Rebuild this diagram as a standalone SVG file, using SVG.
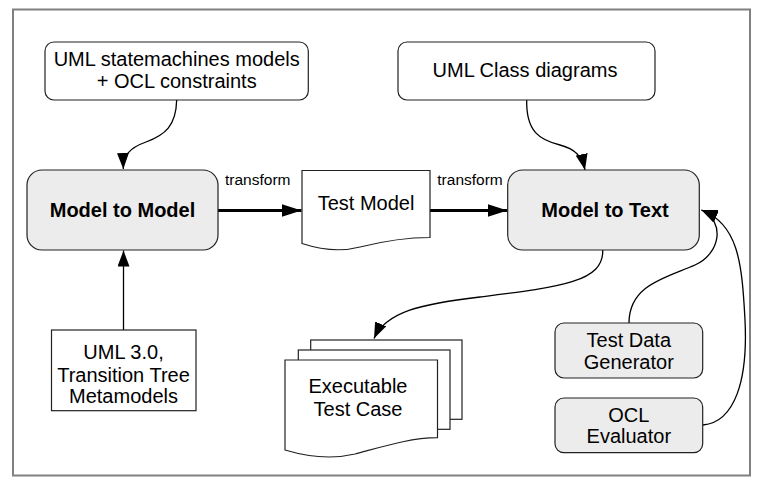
<svg xmlns="http://www.w3.org/2000/svg" width="761" height="486" viewBox="0 0 761 486">
<style>
  text { font-family: "Liberation Sans", Arial, sans-serif; font-size: 20px; fill: #000; text-anchor: middle; }
  .bold { font-weight: bold; }
  .lbl { font-size: 15.5px; text-anchor: start; }
  .box { fill: #ffffff; stroke: #222; stroke-width: 1.2; }
  .gbox { fill: #ececec; stroke: #222; stroke-width: 1.2; }
  .thin { fill: none; stroke: #000; stroke-width: 1.3; }
  .thick { fill: none; stroke: #000; stroke-width: 3; }
</style>
<defs>
  <marker id="ahThin" markerUnits="userSpaceOnUse" markerWidth="17" markerHeight="12" refX="16" refY="6" orient="auto">
    <path d="M0,0 L16,6 L0,12 Z" fill="#000"/>
  </marker>
  <marker id="ahThick" markerUnits="userSpaceOnUse" markerWidth="21" markerHeight="13" refX="20" refY="6.5" orient="auto">
    <path d="M0,0 L20,6.5 L0,13 Z" fill="#000"/>
  </marker>
</defs>
<rect x="0" y="0" width="761" height="486" fill="#ffffff"/>
<rect x="13" y="9.5" width="737" height="466" fill="none" stroke="#808080" stroke-width="2"/>

<g id="connectors">
  <path class="thin" d="M176.7,100 C176,126 165,135 146,142 C129,148 123,156 123.3,169" marker-end="url(#ahThin)"/>
  <path class="thin" d="M526.7,100 C526,132 540,140 560,145 C575,149 582,156 585,170" marker-end="url(#ahThin)"/>
  <path class="thick" d="M218,210.5 L301.5,210.5" marker-end="url(#ahThick)"/>
  <path class="thick" d="M430,210.5 L507.5,210.5" marker-end="url(#ahThick)"/>
  <path class="thin" d="M123.5,330 L123.5,250.5" marker-end="url(#ahThin)"/>
  <path class="thin" d="M602.7,250 C604,282 560,287 480,297 C420,304 386,312 374,338.5" marker-end="url(#ahThin)"/>
  <path class="thin" d="M629,323 C629,285 665,278 695,265 C720,254 726,222 701.5,210" marker-end="url(#ahThin)"/>
  <path class="thin" d="M703,425 C735,422 748,380 745,320 C742,262 738,224 701.5,210" marker-end="url(#ahThin)"/>
  <text class="lbl" x="225" y="185">transform</text>
  <text class="lbl" x="437.3" y="185">transform</text>
</g>

<g id="uml-statemachines">
  <rect class="box" x="45" y="42" width="263.3" height="58" rx="9"/>
  <text x="176.7" y="66">UML statemachines models</text>
  <text x="176.7" y="88.3">+ OCL constraints</text>
</g>

<g id="uml-class">
  <rect class="box" x="398" y="42" width="257" height="58" rx="9"/>
  <text x="525" y="77">UML Class diagrams</text>
</g>

<g id="model-to-model">
  <rect class="gbox" x="27" y="170" width="191" height="80" rx="15"/>
  <text class="bold" x="122.5" y="217">Model to Model</text>
</g>

<g id="test-model">
  <path class="box" d="M302,170.5 H430 V237.5 C405,237.5 380,242 360,247 C345,251 325,251 302,243.5 Z"/>
  <text x="366" y="209.5">Test Model</text>
</g>

<g id="model-to-text">
  <rect class="gbox" x="507.7" y="170" width="191.6" height="80" rx="15"/>
  <text class="bold" x="605" y="217">Model to Text</text>
</g>

<g id="metamodels">
  <rect class="box" x="51.5" y="330" width="144.5" height="80.7"/>
  <text x="123.5" y="359">UML 3.0,</text>
  <text x="123.5" y="381.5">Transition Tree</text>
  <text x="123.5" y="403">Metamodels</text>
</g>

<g id="executable-test-case">
  <rect class="box" x="310.7" y="340" width="151.3" height="79.3"/>
  <rect class="box" x="298.3" y="350" width="151.7" height="79.3"/>
  <path class="box" d="M285,360 H437.5 V437.7 C410,438 385,446 355,454 C330,460 305,456 285,450 Z"/>
  <text x="358" y="393">Executable</text>
  <text x="358" y="416">Test Case</text>
</g>

<g id="test-data-generator">
  <rect class="gbox" x="555" y="323" width="147.7" height="55" rx="9"/>
  <text x="628.8" y="347">Test Data</text>
  <text x="628.8" y="369">Generator</text>
</g>

<g id="ocl-evaluator">
  <rect class="gbox" x="555" y="398" width="147.7" height="54.7" rx="9"/>
  <text x="628.8" y="421.7">OCL</text>
  <text x="628.8" y="443">Evaluator</text>
</g>
</svg>
